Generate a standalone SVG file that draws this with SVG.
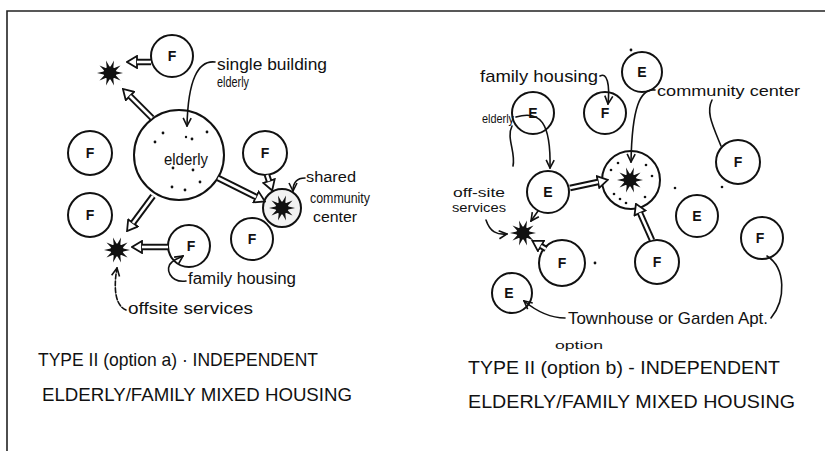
<svg xmlns="http://www.w3.org/2000/svg" width="825" height="451" viewBox="0 0 825 451">
<style>
.frame{fill:none;stroke:#222;stroke-width:1.6}
.nd{fill:none;stroke:#111;stroke-width:2}
.lb{font-family:"Liberation Sans",Arial,sans-serif;fill:#111}
.cl{font-family:"Liberation Sans",Arial,sans-serif;font-size:14px;font-weight:bold;fill:#111;text-anchor:middle}
.ttl{font-family:"Liberation Sans",Arial,sans-serif;font-size:19px;fill:#111}
.dbo{fill:none;stroke:#111;stroke-width:6.5;stroke-linecap:butt}
.dbi{fill:none;stroke:#fff;stroke-width:2.6;stroke-linecap:butt}
.ld{fill:none;stroke:#111;stroke-width:1.6;stroke-linecap:round}
.dot{fill:#111}
</style>
<defs>
<g id="star">
<polygon fill="#111" points="13,0 5.2,1.7 10.5,7.6 3.2,4.4 4,12.4 0,5.4 -4,12.4 -3.2,4.4 -10.5,7.6 -5.2,1.7 -13,0 -5.2,-1.7 -10.5,-7.6 -3.2,-4.4 -4,-12.4 0,-5.4 4,-12.4 3.2,-4.4 10.5,-7.6 5.2,-1.7"/>
<circle r="6.5" fill="#111"/>
</g>
<marker id="hd" markerUnits="userSpaceOnUse" viewBox="0 0 12 14" markerWidth="12" markerHeight="14" refX="1" refY="7" orient="auto">
<path d="M1,1 L11,7 L1,13 Z" fill="#fff" stroke="#111" stroke-width="1.8"/>
</marker>
<marker id="ah" markerUnits="userSpaceOnUse" viewBox="0 0 10 10" markerWidth="10" markerHeight="10" refX="9" refY="5" orient="auto">
<path d="M1,1 L9,5 L1,9" fill="none" stroke="#111" stroke-width="1.6"/>
</marker>
</defs>
<rect width="825" height="451" fill="#fff"/>
<path class="frame" d="M7,451 L7,11 L825,11"/>

<!-- LEFT DIAGRAM -->
<g id="l-elderly">
<circle class="nd" cx="179" cy="155" r="45"/>
<text class="lb" x="164" y="165" font-size="17" textLength="44" lengthAdjust="spacingAndGlyphs">elderly</text>
<g class="dot">
<circle cx="163" cy="133" r="1.4"/><circle cx="155" cy="142" r="1.4"/><circle cx="207" cy="132" r="1.4"/><circle cx="192" cy="139" r="1.4"/><circle cx="186" cy="137" r="1.2"/><circle cx="173" cy="168" r="1.4"/><circle cx="193" cy="170" r="1.4"/><circle cx="200" cy="182" r="1.4"/><circle cx="172" cy="187" r="1.4"/><circle cx="185" cy="190" r="1.4"/>
</g>
</g>
<g id="l-f-top"><circle class="nd" cx="172" cy="56" r="21"/><text class="cl" x="172" y="61">F</text></g>
<g id="l-f-left1"><circle class="nd" cx="90" cy="153" r="22"/><text class="cl" x="90" y="158">F</text></g>
<g id="l-f-left2"><circle class="nd" cx="90" cy="215" r="22"/><text class="cl" x="90" y="220">F</text></g>
<g id="l-f-right"><circle class="nd" cx="265" cy="153" r="22"/><text class="cl" x="265" y="158">F</text></g>
<g id="l-f-bottom"><circle class="nd" cx="252" cy="239" r="21"/><text class="cl" x="252" y="244">F</text></g>
<g id="l-f-family"><circle class="nd" cx="189" cy="246" r="21"/><text class="cl" x="191" y="251">F</text></g>
<g id="l-community">
<circle cx="282" cy="208" r="19" fill="#f2f2f2" stroke="#111" stroke-width="2"/>
<use href="#star" x="282" y="208"/>
</g>
<g id="l-star-top"><use href="#star" x="110" y="73"/></g>
<g id="l-star-offsite"><use href="#star" x="117" y="250"/></g>

<g id="l-labels">
<text class="lb" x="217" y="70" font-size="16" textLength="110" lengthAdjust="spacingAndGlyphs">single building</text>
<text class="lb" x="217" y="87" font-size="14" textLength="32" lengthAdjust="spacingAndGlyphs">elderly</text>
<text class="lb" x="306" y="182" font-size="14" textLength="50" lengthAdjust="spacingAndGlyphs">shared</text>
<text class="lb" x="310" y="203" font-size="14" textLength="60" lengthAdjust="spacingAndGlyphs">community</text>
<text class="lb" x="313" y="222" font-size="14" textLength="44" lengthAdjust="spacingAndGlyphs">center</text>
<text class="lb" x="188" y="284" font-size="16" textLength="108" lengthAdjust="spacingAndGlyphs">family housing</text>
<text class="lb" x="128" y="314" font-size="16" textLength="125" lengthAdjust="spacingAndGlyphs">offsite services</text>
<text class="ttl" x="38" y="366" textLength="280" lengthAdjust="spacingAndGlyphs">TYPE II (option a) · INDEPENDENT</text>
<text class="ttl" x="42" y="401" textLength="310" lengthAdjust="spacingAndGlyphs">ELDERLY/FAMILY MIXED HOUSING</text>
</g>

<!-- RIGHT DIAGRAM -->
<g id="r-e-top"><circle class="nd" cx="642" cy="72" r="20"/><text class="cl" x="642" y="77">E</text><circle class="dot" cx="631" cy="50" r="1.4"/></g>
<g id="r-e-1"><circle class="nd" cx="533" cy="113" r="21"/><text class="cl" x="533" y="118">E</text></g>
<g id="r-f-1"><circle class="nd" cx="605" cy="113" r="21"/><text class="cl" x="605" y="118">F</text></g>
<g id="r-f-right"><circle class="nd" cx="738" cy="162" r="22"/><text class="cl" x="738" y="167">F</text></g>
<g id="r-e-2"><circle class="nd" cx="548" cy="192" r="21"/><text class="cl" x="548" y="197">E</text></g>
<g id="r-community">
<circle class="nd" cx="631" cy="180" r="29"/>
<use href="#star" x="630" y="180"/>
<g class="dot"><circle cx="611" cy="170" r="1.3"/><circle cx="618" cy="163" r="1.3"/><circle cx="646" cy="165" r="1.3"/><circle cx="652" cy="176" r="1.3"/><circle cx="614" cy="194" r="1.3"/><circle cx="620" cy="199" r="1.3"/><circle cx="645" cy="197" r="1.3"/><circle cx="626" cy="203" r="1.3"/></g>
</g>
<g id="r-star-offsite"><use href="#star" x="523" y="233"/></g>
<g id="r-f-2"><circle class="nd" cx="562" cy="263" r="23"/><text class="cl" x="562" y="268">F</text><circle class="dot" cx="595" cy="263" r="1.4"/></g>
<g id="r-f-3"><circle class="nd" cx="657" cy="262" r="22"/><text class="cl" x="657" y="267">F</text></g>
<g id="r-e-3"><circle class="nd" cx="697" cy="216" r="21"/><text class="cl" x="697" y="221">E</text><circle class="dot" cx="675" cy="188" r="1.3"/><circle class="dot" cx="722" cy="187" r="1.3"/></g>
<g id="r-f-4"><circle class="nd" cx="762" cy="238" r="21"/><text class="cl" x="760" y="243">F</text></g>
<g id="r-e-4"><circle class="nd" cx="512" cy="293" r="20"/><text class="cl" x="509" y="298">E</text></g>

<g id="r-labels">
<text class="lb" x="480" y="82" font-size="17" textLength="118" lengthAdjust="spacingAndGlyphs">family housing</text>
<text class="lb" x="657" y="96" font-size="15" textLength="143" lengthAdjust="spacingAndGlyphs">community center</text>
<text class="lb" x="482" y="123" font-size="12" textLength="32" lengthAdjust="spacingAndGlyphs">elderly</text>
<text class="lb" x="453" y="197" font-size="12" textLength="52" lengthAdjust="spacingAndGlyphs">off-site</text>
<text class="lb" x="452" y="212" font-size="12" textLength="54" lengthAdjust="spacingAndGlyphs">services</text>
<text class="lb" x="568" y="324" font-size="17" textLength="200" lengthAdjust="spacingAndGlyphs">Townhouse or Garden Apt.</text>
<text class="lb" x="555" y="349" font-size="10" textLength="48" lengthAdjust="spacingAndGlyphs">option</text>
<text class="ttl" x="468" y="374" font-size="20" textLength="312" lengthAdjust="spacingAndGlyphs">TYPE II (option b) - INDEPENDENT</text>
<text class="ttl" x="468" y="408" font-size="20" textLength="327" lengthAdjust="spacingAndGlyphs">ELDERLY/FAMILY MIXED HOUSING</text>
</g>

<g id="connectors">
<path class="dbo" d="M151,62 L137,62" marker-end="url(#hd)"/><path class="dbi" d="M151,62 L137,62"/>
<path class="dbo" d="M152,118 L130,96" marker-end="url(#hd)"/><path class="dbi" d="M152,118 L130,96"/>
<path class="dbo" d="M218,178 L256,197" marker-end="url(#hd)"/><path class="dbi" d="M218,178 L256,197"/>
<path class="dbo" d="M153,196 L133,223" marker-end="url(#hd)"/><path class="dbi" d="M153,196 L133,223"/>
<path class="dbo" d="M168,247 L142,247" marker-end="url(#hd)"/><path class="dbi" d="M168,247 L142,247"/>
<path class="dbo" d="M267,175 L269,181" marker-end="url(#hd)"/><path class="dbi" d="M267,175 L269,181"/>
<path class="dbo" d="M570,188 L598,182" marker-end="url(#hd)"/><path class="dbi" d="M570,188 L598,182"/>
<path class="dbo" d="M652,240 L640,213" marker-end="url(#hd)"/><path class="dbi" d="M652,240 L640,213"/>
<path class="dbo" d="M546,249 L541,246" marker-end="url(#hd)"/><path class="dbi" d="M546,249 L541,246"/>
<path class="ld" d="M215,62 C198,60 188,80 187,126" marker-end="url(#ah)"/>
<path class="ld" d="M305,178 C297,178 293,182 293,191" marker-end="url(#ah)"/>
<path class="ld" d="M186,281 C170,283 164,268 172,262 C176,258 180,258 183,256" marker-end="url(#ah)"/>
<path class="ld" d="M126,310 C116,306 113,290 117,268" stroke-dasharray="5,2" marker-end="url(#ah)"/>
<path class="ld" d="M600,76 C607,72 610,84 608,104" marker-end="url(#ah)"/>
<path class="ld" d="M655,90 C640,88 632,108 631,162" marker-end="url(#ah)"/>
<path class="ld" d="M516,117 C540,110 551,122 550,168" marker-end="url(#ah)"/>
<path class="ld" d="M512,126 C506,138 516,152 513,166"/>
<path class="ld" d="M538,211 L531,221" marker-end="url(#ah)"/>
<path class="ld" d="M486,220 C490,232 497,235 507,234" marker-end="url(#ah)"/>
<path class="ld" d="M565,318 C548,318 535,310 524,301" marker-end="url(#ah)"/>
<path class="ld" d="M767,256 C786,268 786,300 771,318"/>
<path class="ld" d="M712,100 C706,112 712,124 721,146"/>
</g>
</svg>
